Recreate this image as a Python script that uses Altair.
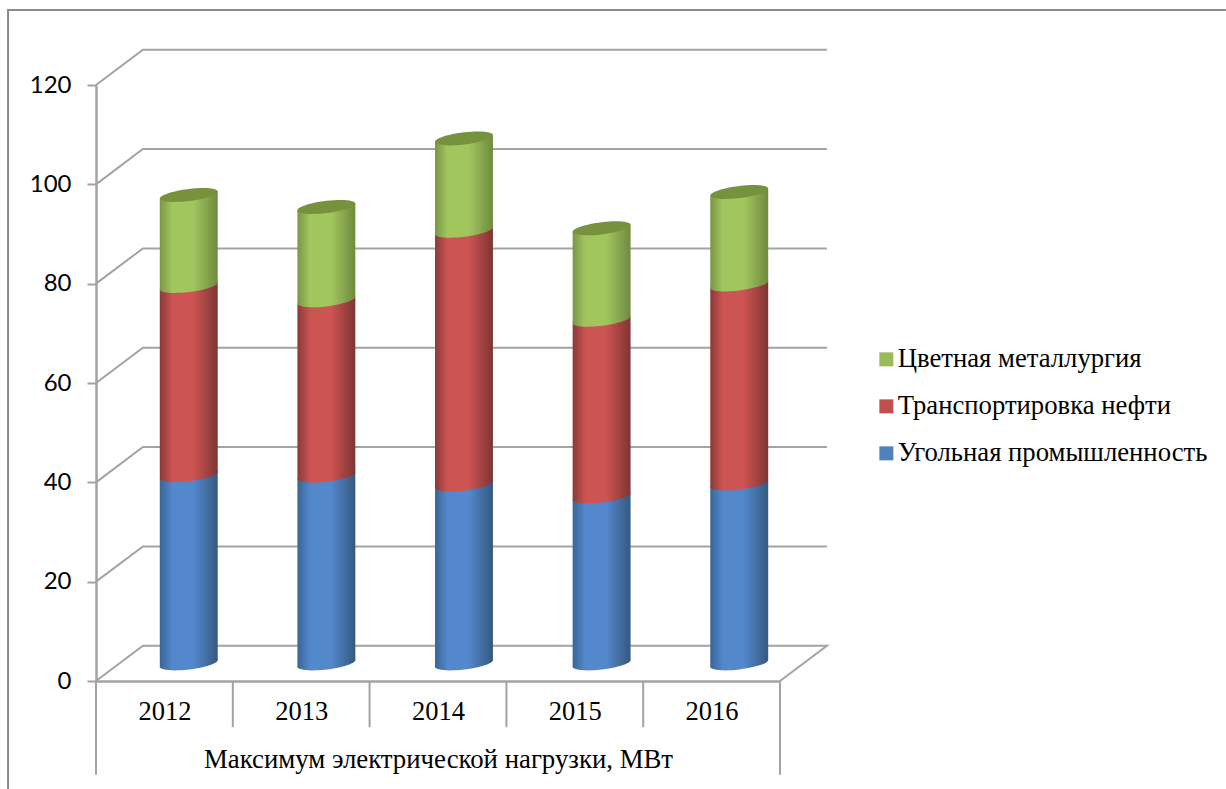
import altair as alt
import pandas as pd

# Peak electrical load by industry, MW
years = ["2012", "2013", "2014", "2015", "2016"]
series_names = ["Угольная промышленность", "Транспортировка нефти", "Цветная металлургия"]
coal = [37.9, 37.8, 36.0, 33.6, 36.2]
oil = [38.1, 35.3, 51.1, 35.6, 40.1]
metal = [18.3, 18.8, 18.6, 18.4, 18.6]
y_ticks = [0, 20, 40, 60, 80, 100, 120]
axis_title = "Максимум электрической нагрузки, МВт"

# Scale geometry, in axis units: x counts categories, y counts MW
SLOTS = 5
DEPTH_X = 0.343
DEPTH_Y = 7.1
LIFT = DEPTH_Y / 2
BAR_START = 0.678
BAR_STEP = 1.006
HALF_WIDTH = 0.2117
TILT = 0.7
FRAME_DROP = -18.9
TICK_DROP = -9.3
FRAME_LEFT = -0.643
FRAME_RIGHT = 8.26
FRAME_TOP = 135.1
FRAME_BOTTOM = -21.8

GRID = "#a3a3a3"
FRAME = "#8c8c8c"
CAP_GREEN = "#76923c"
series_colors = ["#4f81bd", "#c0504d", "#9bbb59"]
stops = [
    ("#3a6596", "#5388cc", "#35597f"),
    ("#8a3a38", "#cc5452", "#7e3533"),
    ("#7a9646", "#a2c65e", "#6f8a3f"),
]


def gradient(edge_l, mid, edge_r):
    return alt.LinearGradient(
        gradient="linear", x1=0, y1=0, x2=1, y2=0,
        stops=[
            alt.GradientStop(offset=0, color=edge_l),
            alt.GradientStop(offset=0.22, color=mid),
            alt.GradientStop(offset=0.58, color=mid),
            alt.GradientStop(offset=1, color=edge_r),
        ],
    )


def tilted_ellipse(tilt=0.12, squash=0.21):
    """Cylinder cross-section as a closed Bezier path, in symbol unit coordinates."""
    k = 0.5523
    circle = [(1, 0), (1, k), (k, 1), (0, 1), (-k, 1), (-1, k), (-1, 0),
              (-1, -k), (-k, -1), (0, -1), (k, -1), (1, -k), (1, 0)]
    pts = [(x, -tilt * x + squash * y) for x, y in circle]
    fmt = lambda p: f"{p[0]:.4f} {p[1]:.4f}"
    path = "M" + fmt(pts[0])
    for i in range(1, len(pts), 3):
        path += " C" + " ".join(fmt(p) for p in pts[i:i + 3])
    return path + " Z"


ELLIPSE = tilted_ellipse()
ELLIPSE_SIZE = 58 ** 2

label_expr = "[" + ",".join(f"'{y}'" for y in years) + "][floor(datum.value)]"
x_scale = alt.Scale(domain=[0, SLOTS], nice=False, zero=False)
y_scale = alt.Scale(domain=[0, 120], nice=False, zero=False)

# Every layer shares these axes, so they merge into a single pair
X = alt.X("x:Q", scale=x_scale, axis=alt.Axis(
    values=[i + 0.5 for i in range(SLOTS)], labelExpr=label_expr, grid=False, ticks=False,
    domainColor=GRID, domainWidth=2.5, labelFont="Liberation Serif", labelFontSize=26.5,
    labelColor="#000000", labelPadding=17, labelAngle=0, labelFlush=False,
    title=axis_title, titleFont="Liberation Serif", titleFontSize=26.8, titleFontWeight="normal",
    titleColor="#000000", titlePadding=22,
))
Y = alt.Y("y:Q", scale=y_scale, axis=alt.Axis(
    values=y_ticks, grid=False, tickSize=9, tickWidth=2, tickColor=GRID,
    domainColor=GRID, domainWidth=2.5, labelFont="Lato", labelFontSize=24,
    labelColor="#000000", labelPadding=16, title=None,
))

# Outer frame along the top and left edges of the page
frame = alt.Chart(pd.DataFrame({
    "x": [FRAME_LEFT, FRAME_LEFT, FRAME_RIGHT],
    "y": [FRAME_BOTTOM, FRAME_TOP, FRAME_TOP],
})).mark_line(color=FRAME, strokeWidth=2, clip=False).encode(x=X, y=Y, order=alt.Order("y:Q"))

# Gridlines: side wall rising to the back wall, then along it
grid_rows = []
for t in y_ticks:
    grid_rows += [
        {"t": t, "o": 0, "x": 0, "y": t},
        {"t": t, "o": 1, "x": DEPTH_X, "y": t + DEPTH_Y},
        {"t": t, "o": 2, "x": SLOTS + DEPTH_X, "y": t + DEPTH_Y},
    ]
grid_rows.append({"t": 0, "o": 3, "x": SLOTS, "y": 0})
grid = alt.Chart(pd.DataFrame(grid_rows)).mark_line(
    color=GRID, strokeWidth=2, clip=False
).encode(x=X, y=Y, detail="t:N", order="o:Q")

# Category separators below the axis
sep_rows = [{"x": i, "y": 0, "y2": TICK_DROP} for i in range(1, SLOTS)]
sep_rows += [{"x": i, "y": 0, "y2": FRAME_DROP} for i in (0, SLOTS)]
separators = alt.Chart(pd.DataFrame(sep_rows)).mark_rule(color=GRID, strokeWidth=2).encode(
    x=X, y=Y, y2="y2:Q"
)

# Stacked cylinder segments, drawn bottom-up so each lower rim overlaps the one beneath
lower = [0.0] * len(years)
bodies = []
centres = [BAR_START + BAR_STEP * i for i in range(len(years))]
for name, vals, cs in zip(series_names, (coal, oil, metal), stops):
    body_rows, rim_rows = [], []
    for i, (yr, v) in enumerate(zip(years, vals)):
        cx = centres[i]
        lo, hi = lower[i] + LIFT, lower[i] + v + LIFT
        body_rows += [
            {"yr": yr, "x": cx - HALF_WIDTH, "y": hi - TILT, "y2": lo - TILT},
            {"yr": yr, "x": cx + HALF_WIDTH, "y": hi + TILT, "y2": lo + TILT},
        ]
        rim_rows.append({"yr": yr, "x": cx, "y": lo})
        lower[i] += v
    fill = gradient(*cs)
    bodies.append(alt.Chart(pd.DataFrame(body_rows)).mark_area(fill=fill, clip=False).encode(
        x=X, y=Y, y2="y2:Q", detail="yr:N"
    ))
    bodies.append(alt.Chart(pd.DataFrame(rim_rows)).mark_point(
        shape=ELLIPSE, size=ELLIPSE_SIZE, fill=fill, filled=True, opacity=1, strokeWidth=0, clip=False
    ).encode(x=X, y=Y))

# Top caps
cap_rows = [{"x": centres[i], "y": lower[i] + LIFT} for i in range(len(years))]
caps = alt.Chart(pd.DataFrame(cap_rows)).mark_point(
    shape=ELLIPSE, size=ELLIPSE_SIZE, fill=CAP_GREEN, filled=True, opacity=1, strokeWidth=0, clip=False
).encode(x=X, y=Y)

# Zero-sized points that feed the legend
legend_src = alt.Chart(pd.DataFrame({"name": series_names, "x": [0, 0, 0], "y": [0, 0, 0]})).mark_point(
    filled=True, size=0
).encode(
    x=X, y=Y,
    color=alt.Color("name:N", scale=alt.Scale(domain=series_names[::-1], range=series_colors[::-1]),
                    legend=alt.Legend(
                        orient="none", legendX=777, legendY=261, title=None, symbolType="square",
                        symbolSize=196, symbolStrokeWidth=0, symbolOpacity=1,
                        labelFont="Liberation Serif", labelFontSize=26.7, labelColor="#000000",
                        labelLimit=400, rowPadding=19, labelOffset=alt.expr("-2"),
                    )),
)

chart = alt.layer(frame, grid, separators, *bodies, caps, legend_src).properties(
    width=684, height=596,
    autosize=alt.AutoSizeParams(type="none"),
    padding={"left": 96, "top": 85, "right": 446, "bottom": 108},
    background="white",
).configure_view(stroke=None)

chart.save("out.html", embed_options={"renderer": "svg", "actions": False})
